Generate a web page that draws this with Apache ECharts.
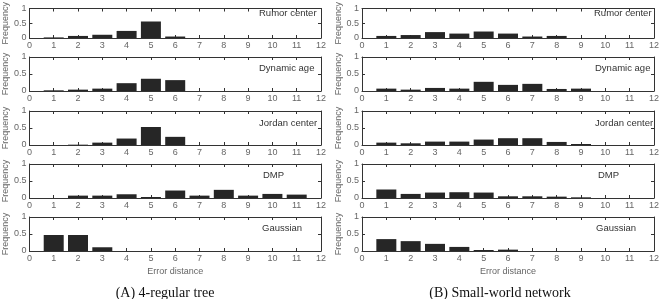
<!DOCTYPE html>
<html>
<head>
<meta charset="utf-8">
<script src="https://cdn.jsdelivr.net/npm/echarts@6/dist/echarts.min.js"></script>
<style>
  html, body { margin: 0; padding: 0; background: #fff; }
  #chart { width: 663px; height: 299px; }
</style>
</head>
<body>
<div id="chart"></div>
<script>
// error distance 1..12
const distances = [1, 2, 3, 4, 5, 6, 7, 8, 9, 10, 11, 12];
const methods = ['Rumor center', 'Dynamic age', 'Jordan center', 'DMP', 'Gaussian'];

// (A) 4-regular tree
const treeRumor = [0.02, 0.07, 0.11, 0.24, 0.56, 0.05, 0, 0, 0, 0, 0, 0];
const treeDynamic = [0.02, 0.04, 0.07, 0.23, 0.36, 0.32, 0, 0, 0, 0, 0, 0];
const treeJordan = [0, 0.01, 0.07, 0.19, 0.53, 0.24, 0, 0, 0, 0, 0, 0];
const treeDMP = [0, 0.07, 0.07, 0.11, 0.03, 0.22, 0.07, 0.24, 0.07, 0.12, 0.1, 0];
const treeGauss = [0.47, 0.47, 0.11, 0, 0, 0, 0, 0, 0, 0, 0, 0];

// (B) Small-world network
const swRumor = [0.07, 0.1, 0.2, 0.15, 0.22, 0.15, 0.05, 0.07, 0, 0, 0, 0];
const swDynamic = [0.07, 0.04, 0.09, 0.07, 0.27, 0.18, 0.21, 0.06, 0.07, 0, 0, 0];
const swJordan = [0.07, 0.05, 0.1, 0.1, 0.16, 0.2, 0.2, 0.09, 0.03, 0, 0, 0];
const swDMP = [0.25, 0.12, 0.16, 0.17, 0.16, 0.05, 0.05, 0.04, 0.02, 0, 0, 0];
const swGauss = [0.35, 0.29, 0.21, 0.12, 0.03, 0.04, 0, 0, 0, 0, 0, 0];

const columns = [
  [treeRumor, treeDynamic, treeJordan, treeDMP, treeGauss],
  [swRumor, swDynamic, swJordan, swDMP, swGauss]
];
const captions = ['(A) 4-regular tree', '(B) Small-world network'];

// layout
const colLeft = [29, 362];
const plotW = 292;
const rowTop = [4, 57, 111, 164, 217];
const plotH = 34;
const labelLeft = [[259, 259, 259, 263, 262], [594, 595, 595, 598, 596]];
const labelDy = [9, 11, 12, 11, 11];
const captionX = [165, 500];

const lineColor = '#333';
const textColor = '#666';
const tickFont = { color: textColor, fontSize: 9, fontFamily: 'Liberation Sans, Arial, sans-serif' };

let grid = [], xAxis = [], yAxis = [], series = [], title = [];

columns.forEach((col, c) => {
  col.forEach((values, r) => {
    const gi = grid.length;
    grid.push({ left: colLeft[c], top: rowTop[r], width: plotW, height: plotH });
    const isLast = r === col.length - 1;
    const axisLine = { show: true, onZero: false, lineStyle: { color: lineColor, width: 1 } };
    const tick = { show: true, inside: true, length: 3, lineStyle: { color: lineColor } };
    // bottom x axis
    xAxis.push({
      gridIndex: gi, type: 'value', min: 0, max: 12, interval: 1, position: 'bottom',
      axisLine, axisTick: tick, splitLine: { show: false },
      axisLabel: Object.assign({ margin: 3 }, tickFont),
      name: isLast ? 'Error distance' : '', nameLocation: 'middle', nameGap: 16,
      nameTextStyle: tickFont
    });
    // top x axis (ticks only)
    xAxis.push({
      gridIndex: gi, type: 'value', min: 0, max: 12, interval: 1, position: 'top',
      axisLine, axisTick: tick, splitLine: { show: false }, axisLabel: { show: false }
    });
    // left y axis
    yAxis.push({
      gridIndex: gi, type: 'value', min: 0, max: 1, interval: 0.5, position: 'left',
      axisLine, axisTick: tick, splitLine: { show: false },
      axisLabel: Object.assign({ margin: 3 }, tickFont),
      name: 'Frequency', nameLocation: 'middle', nameGap: 15,
      nameTextStyle: tickFont
    });
    // right y axis (ticks only)
    yAxis.push({
      gridIndex: gi, type: 'value', min: 0, max: 1, interval: 0.5, position: 'right',
      axisLine, axisTick: tick, splitLine: { show: false }, axisLabel: { show: false }
    });
    series.push({
      type: 'bar',
      xAxisIndex: gi * 2,
      yAxisIndex: gi * 2,
      barWidth: 20,
      itemStyle: { color: '#262626' },
      data: distances.map((d, i) => [d, values[i]]),
      animation: false
    });
    title.push({
      text: methods[r],
      left: labelLeft[c][r],
      top: rowTop[r] + labelDy[r] - 5,
      padding: 0,
      textStyle: { color: '#333', fontSize: 9.5, fontWeight: 'normal', fontFamily: 'Liberation Sans, Arial, sans-serif' }
    });
  });
});

const graphic = captions.map((t, c) => ({
  type: 'text',
  x: captionX[c],
  y: 293,
  style: {
    text: t,
    fill: '#111',
    font: '14px "Liberation Serif", serif',
    textAlign: 'center',
    textVerticalAlign: 'middle'
  }
}));

const chart = echarts.init(document.getElementById('chart'));
chart.setOption({ animation: false, title, grid, xAxis, yAxis, series, graphic });
</script>
</body>
</html>
